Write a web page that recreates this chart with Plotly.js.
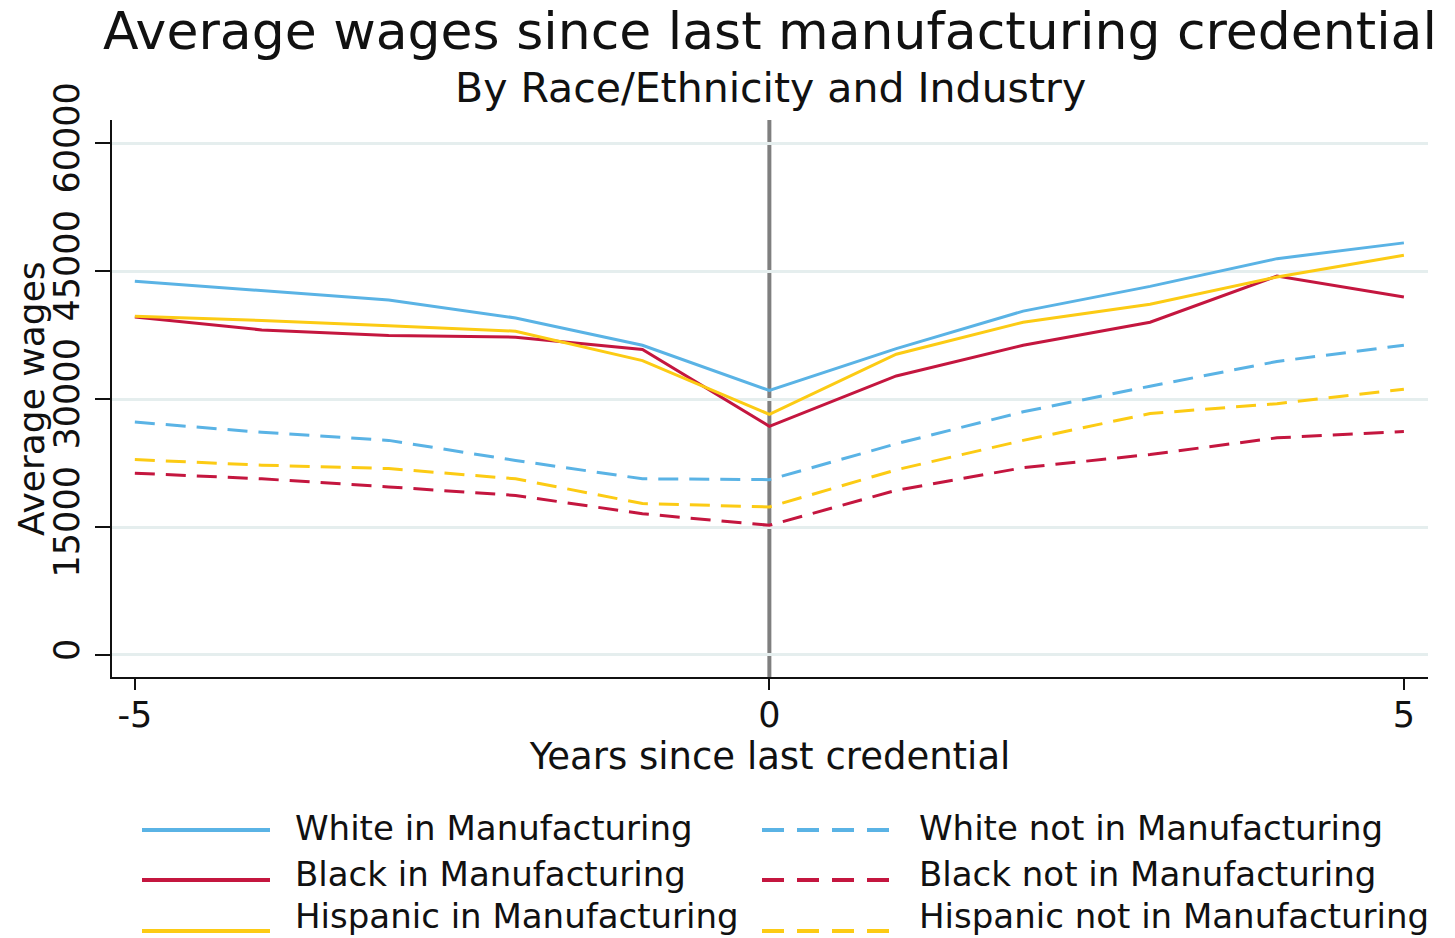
<!DOCTYPE html>
<html>
<head>
<meta charset="utf-8">
<script src="https://cdn.plot.ly/plotly-3.0.1.min.js"></script>
<style>
  html, body { margin: 0; padding: 0; background: #ffffff; }
  #chart { width: 1455px; height: 938px; }
</style>
</head>
<body>
<div id="chart"></div>
<script>
// ---------- Data ----------
const years = [-5, -4, -3, -2, -1, 0, 1, 2, 3, 4, 5];

const whiteIn     = [43800, 42700, 41600, 39500, 36300, 31000, 35900, 40300, 43200, 46450, 48300];
const blackIn     = [39600, 38100, 37450, 37250, 35800, 26800, 32700, 36300, 39000, 44400, 41950];
const hispanicIn  = [39700, 39200, 38600, 37950, 34500, 28200, 35250, 39000, 41100, 44300, 46850];
const whiteNot    = [27300, 26100, 25150, 22800, 20650, 20550, 24750, 28500, 31500, 34400, 36300];
const blackNot    = [21300, 20650, 19700, 18700, 16550, 15200, 19300, 21950, 23500, 25450, 26200];
const hispanicNot = [22900, 22250, 21850, 20650, 17750, 17350, 21700, 25150, 28300, 29450, 31150];

const seriesNames = [
  "White in Manufacturing", "Black in Manufacturing", "Hispanic in Manufacturing",
  "White not in Manufacturing", "Black not in Manufacturing", "Hispanic not in Manufacturing"
];
const yTicks = [0, 15000, 30000, 45000, 60000];
const xTicks = [-5, 0, 5];
const credentialYear = 0;

// ---------- Styles ----------
const BLUE = "#5ab3e5", RED = "#c4163f", YELLOW = "#fccb14";
const DASH = "20px,11px";
const FONT = "DejaVu Sans, Verdana, sans-serif";

const W = 1455, H = 938;
const M = { l: 112, r: 27, t: 120, b: 261 };
const PW = W - M.l - M.r, PH = H - M.t - M.b;
const px2x = px => (px - M.l) / PW;
const py2y = py => (H - M.b - py) / PH;

const seriesValues = [whiteIn, blackIn, hispanicIn, whiteNot, blackNot, hispanicNot];
const seriesColors = [BLUE, RED, YELLOW, BLUE, RED, YELLOW];
const seriesDash   = ["solid", "solid", "solid", DASH, DASH, DASH];

const traces = seriesValues.map((vals, i) => ({
  type: "scatter", mode: "lines",
  x: years, y: vals, name: seriesNames[i],
  line: { color: seriesColors[i], width: 3, dash: seriesDash[i] },
  showlegend: false, hoverinfo: "x+y+name"
}));

// ---------- Custom legend (two columns, three rows) ----------
const legendCols = [
  { lineX0: 142, lineX1: 270, textX: 293 },
  { lineX0: 762, lineX1: 892, textX: 917 }
];
const legendRows = [
  { lineY: 830, textY: 828 },
  { lineY: 880, textY: 874 },
  { lineY: 931, textY: 916 }
];
const legendShapes = [], legendAnns = [];
seriesNames.forEach((name, i) => {
  const col = legendCols[Math.floor(i / 3)], row = legendRows[i % 3];
  legendShapes.push({
    type: "line", xref: "paper", yref: "paper",
    x0: px2x(col.lineX0), x1: px2x(col.lineX1),
    y0: py2y(row.lineY), y1: py2y(row.lineY),
    line: { color: seriesColors[i], width: 4, dash: i >= 3 ? "22px,13px" : "solid" }
  });
  legendAnns.push({
    xref: "paper", yref: "paper", x: px2x(col.textX), y: py2y(row.textY),
    xanchor: "left", yanchor: "middle", showarrow: false,
    text: name, font: { family: FONT, size: 34, color: "#111111" }
  });
});

const layout = {
  width: W, height: H,
  margin: M,
  paper_bgcolor: "#ffffff", plot_bgcolor: "#ffffff",
  font: { family: FONT, color: "#111111" },
  title: {
    text: "Average wages since last manufacturing credential",
    font: { family: FONT, size: 52, color: "#111111" },
    xref: "paper", x: 0.5, xanchor: "center",
    yref: "container", y: 1 - 31 / H, yanchor: "middle"
  },
  xaxis: {
    range: [-5.18, 5.19], tickvals: xTicks, ticktext: xTicks.map(String),
    showgrid: false, zeroline: false,
    showline: true, linecolor: "#111111", linewidth: 2, mirror: false,
    ticks: "outside", ticklen: 11, tickwidth: 2, tickcolor: "#111111",
    ticklabelstandoff: -5,
    tickfont: { family: FONT, size: 35, color: "#111111" },
    title: { text: "Years since last credential", font: { family: FONT, size: 37, color: "#111111" }, standoff: 0 },
    automargin: false, fixedrange: true
  },
  yaxis: {
    range: [-2580, 62700], tickvals: yTicks, ticktext: yTicks.map(String),
    tickangle: -90,
    showgrid: true, gridcolor: "#e5eeee", gridwidth: 3, zeroline: false,
    showline: true, linecolor: "#111111", linewidth: 2,
    ticks: "outside", ticklen: 15, tickwidth: 2, tickcolor: "#111111",
    ticklabelstandoff: 2,
    tickfont: { family: FONT, size: 35, color: "#111111" },
    automargin: false, fixedrange: true
  },
  shapes: [
    {
      type: "line", xref: "x", yref: "paper",
      x0: credentialYear, x1: credentialYear, y0: 0, y1: 1,
      line: { color: "#7f7f7f", width: 4 }, layer: "below"
    }
  ].concat(legendShapes),
  annotations: [
    {
      xref: "paper", yref: "paper", x: 0.5, y: py2y(88),
      xanchor: "center", yanchor: "middle", showarrow: false,
      text: "By Race/Ethnicity and Industry",
      font: { family: FONT, size: 41, color: "#111111" }
    },
    {
      xref: "paper", yref: "paper", x: px2x(31), y: py2y(399),
      xanchor: "center", yanchor: "middle", showarrow: false, textangle: -90,
      text: "Average wages",
      font: { family: FONT, size: 36, color: "#111111" }
    }
  ].concat(legendAnns),
  showlegend: false
};

Plotly.newPlot("chart", traces, layout, { displayModeBar: false, staticPlot: true });
</script>
</body>
</html>
